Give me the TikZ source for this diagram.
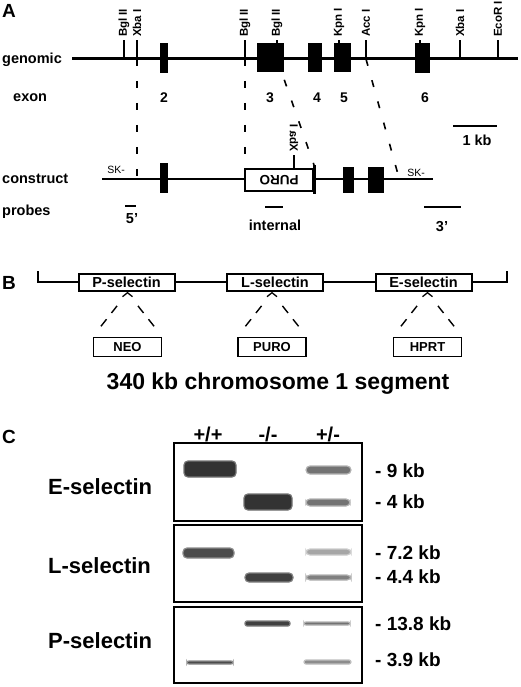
\documentclass[tikz,border=0pt]{standalone}
\usepackage{fontspec}
\setmainfont{Liberation Sans}
\usetikzlibrary{calc}

\begin{document}
\begin{tikzpicture}[
	x=1pt, y=-1pt,
	panel/.style={font=\bfseries\fontsize{19}{21}\selectfont, anchor=base west, inner sep=0pt},
	lbl/.style={font=\bfseries\fontsize{14.5}{16}\selectfont, anchor=base west, inner sep=0pt},
	exnum/.style={font=\bfseries\fontsize{14}{16}\selectfont, anchor=base, inner sep=0pt},
	site/.style={font=\bfseries\fontsize{11.5}{12}\selectfont, rotate=90, anchor=west, inner sep=0pt, outer sep=3pt},
	sitetick/.style={line width=1.4pt},
	exon/.style={fill=black, inner sep=0pt, outer sep=0pt},
	cut/.style={line width=1.6pt, dash pattern=on 7pt off 15pt},
	probe/.style={line width=1.8pt},
	sk/.style={font=\fontsize{10.5}{12}\selectfont, anchor=base, inner sep=0pt},
	gene/.style={draw, line width=2pt, fill=white, minimum width=96pt, minimum height=17pt, inner sep=0pt, font=\bfseries\fontsize{14.5}{16}\selectfont},
	cassette/.style={draw, line width=1.6pt, minimum width=68pt, minimum height=19pt, inner sep=0pt, font=\bfseries\fontsize{13}{15}\selectfont},
	leg/.style={line width=1.4pt, dash pattern=on 9pt off 8pt},
	gel/.style={draw, line width=2pt, minimum width=188pt, inner sep=0pt},
	rowlbl/.style={font=\bfseries\fontsize{22}{24}\selectfont, anchor=base west, inner sep=0pt},
	kbsize/.style={font=\bfseries\fontsize{19}{21}\selectfont, anchor=base west, inner sep=0pt},
	geno/.style={font=\bfseries\fontsize{20}{22}\selectfont, anchor=base, inner sep=0pt},
	band/.style={rounded corners=4pt, line width=1.2pt},
	]
	\useasboundingbox (0,0) rectangle (520,687);
	
	% A: genomic map
	\node[panel] (A) at (2,18) {A};
	\node[lbl] (genomic) at (2,64) {genomic};
	\coordinate (g0) at (72,59);
	\coordinate (g1) at (518,59);
	\draw[line width=3pt] (g0) -- (g1);
	
	\node[exon, minimum width=8pt,  minimum height=30pt] (e2) at (164,58)    {};
	\node[exon, minimum width=27pt, minimum height=29pt] (e3) at (270.5,57.5) {};
	\node[exon, minimum width=14pt, minimum height=29pt] (e4) at (315,57.5)   {};
	\node[exon, minimum width=17pt, minimum height=29pt] (e5) at (342.5,57.5) {};
	\node[exon, minimum width=15pt, minimum height=30pt] (e6) at (422.5,58)   {};
	
	\coordinate (bgl1) at (124,59);
	\coordinate (xba1) at (137,59);
	\coordinate (bgl2) at (245,59);
	\coordinate (bgl3) at (277,59);
	\coordinate (kpn1) at (339,59);
	\coordinate (acc)  at (366,59);
	\coordinate (kpn2) at (420,59);
	\coordinate (xba2) at (460,59);
	\coordinate (eco)  at (498,59);
	\draw[sitetick] (bgl1) -- ++(0,-19) node[site] {Bgl II};
	\draw[sitetick] (xba1) -- ++(0,-19) node[site] {Xba I};
	\draw[sitetick] (bgl2) -- ++(0,-19) node[site] {Bgl II};
	\draw[sitetick] (bgl3) -- ++(0,-19) node[site] {Bgl II};
	\draw[sitetick] (kpn1) -- ++(0,-19) node[site] {Kpn I};
	\draw[sitetick] (acc)  -- ++(0,-19) node[site] {Acc I};
	\draw[sitetick] (kpn2) -- ++(0,-19) node[site] {Kpn I};
	\draw[sitetick] (xba2) -- ++(0,-19) node[site] {Xba I};
	\draw[sitetick] (eco)  -- ++(0,-19) node[site] {EcoR I};
	
	\node[lbl] (exon) at (13,102) {exon};
	\node[exnum] (n2) at (164,103) {2};
	\node[exnum] (n3) at (270,103) {3};
	\node[exnum] (n4) at (317,103) {4};
	\node[exnum] (n5) at (344,103) {5};
	\node[exnum] (n6) at (425,103) {6};
	
	\coordinate (kb0) at (453,126);
	\coordinate (kb1) at (497,126);
	\draw[line width=1.6pt] (kb0) -- (kb1);
	\node[lbl, anchor=base] (kb) at (477,146) {1 kb};
	
	% A: targeting construct
	\node[lbl] (construct) at (2,183) {construct};
	\coordinate (c0) at (102,179);
	\coordinate (c1) at (433,179);
	\draw[line width=1.4pt] (c0) -- (c1);
	\node[sk] (skl) at (116,174) {SK-};
	\node[sk] (skr) at (416,176) {SK-};
	\node[exon, minimum width=8pt,  minimum height=30pt] (ce2) at (164,178) {};
	\node[exon, minimum width=11pt, minimum height=26pt] (ce4) at (348,180) {};
	\node[exon, minimum width=16pt, minimum height=26pt] (ce5) at (376,180) {};
	\node[draw, line width=1.4pt, fill=white, minimum width=68pt, minimum height=22pt, inner sep=0pt] (puro) at (279,180) {};
	\node[font=\bfseries\fontsize{13.5}{15}\selectfont, rotate=180, inner sep=0pt] (purotxt) at (puro) {PURO};
	\coordinate (pend) at (314,165);
	\draw[line width=3pt] (pend) -- ++(0,29);
	\coordinate (cxba) at (294,169);
	\draw[sitetick] (cxba) -- ++(0,-14) node[site, yscale=-1] {Xba I};
	
	\draw[cut] (xba1) -- (xba1 |- c0);
	\draw[cut] (bgl2) -- (bgl2 |- puro.north);
	\draw[cut] (bgl3) -- (pend);
	\coordinate (accend) at (399,178);
	\draw[cut] (acc) -- (accend);
	
	% A: probes
	\node[lbl] (probes) at (2,215) {probes};
	\coordinate (p5l) at (125,206);
	\coordinate (p5r) at (136,206);
	\coordinate (pil) at (265,207);
	\coordinate (pir) at (283,207);
	\coordinate (p3l) at (424,207);
	\coordinate (p3r) at (461,207);
	\draw[probe] (p5l) -- (p5r);
	\draw[probe] (pil) -- (pir);
	\draw[probe] (p3l) -- (p3r);
	\node[lbl, anchor=base] (p5)  at (132,223) {5'};
	\node[lbl, anchor=base] (pin) at (275,230) {internal};
	\node[lbl, anchor=base] (p3)  at (442,231) {3'};
	
	% B: chromosome 1 segment
	\node[panel] (B) at (2,289) {B};
	\coordinate (ch0) at (38,282);
	\coordinate (ch1) at (507,282);
	\draw[line width=2.5pt] (ch0) ++(0,-11) -- (ch0) -- (ch1) -- ++(0,-11);
	\node[gene] (psel) at (126.5,282) {P-selectin};
	\node[gene] (lsel) at (275,282)   {L-selectin};
	\node[gene] (esel) at (423.5,282) {E-selectin};
	
	\node[cassette] (neo)  at (127.5,347) {NEO};
	\node[cassette] (puro2) at (272,347)  {PURO};
	\node[cassette] (hprt) at (427.5,347) {HPRT};
	
	\coordinate (pa) at ([yshift=44pt]neo.north);
	\coordinate (la) at ([yshift=44pt]puro2.north);
	\coordinate (ea) at ([yshift=44pt]hprt.north);
	\draw[line width=1.3pt] (pa) ++(-5,4) -- (pa) -- ++(5,4);
	\draw[line width=1.3pt] (la) ++(-5,4) -- (la) -- ++(5,4);
	\draw[line width=1.3pt] (ea) ++(-5,4) -- (ea) -- ++(5,4);
	\draw[leg] ($(pa)!0.3!(neo.north west)$) -- ($(pa)!0.84!(neo.north west)$);
	\draw[leg] ($(pa)!0.3!(neo.north east)$) -- ($(pa)!0.84!(neo.north east)$);
	\draw[leg] ($(la)!0.3!(puro2.north west)$) -- ($(la)!0.84!(puro2.north west)$);
	\draw[leg] ($(la)!0.3!(puro2.north east)$) -- ($(la)!0.84!(puro2.north east)$);
	\draw[leg] ($(ea)!0.3!(hprt.north west)$) -- ($(ea)!0.84!(hprt.north west)$);
	\draw[leg] ($(ea)!0.3!(hprt.north east)$) -- ($(ea)!0.84!(hprt.north east)$);
	
	\node[font=\bfseries\fontsize{23}{25}\selectfont, anchor=base, inner sep=0pt] (segment) at (278,389) {340 kb chromosome 1 segment};
	
	% C: Southern blots
	\node[panel] (C) at (2,443) {C};
	\node[geno] (wt)  at (208,441) {+/+};
	\node[geno] (ko)  at (268,441) {-/-};
	\node[geno] (het) at (328,441) {+/-};
	
	\node[gel, minimum height=78pt] (gelE) at (267.5,481.5) {};
	\node[gel, minimum height=77pt] (gelL) at (267.5,563)   {};
	\node[gel, minimum height=76pt] (gelP) at (267.5,644.5) {};
	
	\filldraw[band, fill=black!80, draw=black!55] (184,461) rectangle (236,477);
	\filldraw[band, fill=black!80, draw=black!55] (244,494) rectangle (292,510);
	\filldraw[band, fill=black!55, draw=black!30] (306,466) rectangle (351,474);
	\filldraw[band, fill=black!55, draw=black!30] (306,499) rectangle (350,506);
	
	\filldraw[band, fill=black!70, draw=black!45] (183,548) rectangle (234,558);
	\filldraw[band, fill=black!75, draw=black!50] (245,573) rectangle (293,582);
	\filldraw[band, fill=black!35, draw=black!20] (306,549) rectangle (351,555);
	\filldraw[band, fill=black!50, draw=black!30] (306,575) rectangle (351,580);
	
	\filldraw[band, rounded corners=2pt, fill=black!75, draw=black!50] (245,621) rectangle (290,626);
	\filldraw[band, rounded corners=2pt, fill=black!55, draw=black!30] (304,622) rectangle (350,625);
	\filldraw[band, rounded corners=2pt, fill=black!70, draw=black!45] (187,661) rectangle (233,664);
	\filldraw[band, rounded corners=2pt, fill=black!45, draw=black!25] (304,660) rectangle (351,664);
	
	\node[rowlbl] (elbl) at (48,494) {E-selectin};
	\node[rowlbl] (llbl) at (48,573) {L-selectin};
	\node[rowlbl] (plbl) at (48,648) {P-selectin};
	
	\node[kbsize] (s9)  at (375,477) {- 9 kb};
	\node[kbsize] (s4)  at (375,508) {- 4 kb};
	\node[kbsize] (s72) at (375,559) {- 7.2 kb};
	\node[kbsize] (s44) at (375,583) {- 4.4 kb};
	\node[kbsize] (s138) at (375,630) {- 13.8 kb};
	\node[kbsize] (s39) at (375,666) {- 3.9 kb};
	
\end{tikzpicture}
\end{document}
